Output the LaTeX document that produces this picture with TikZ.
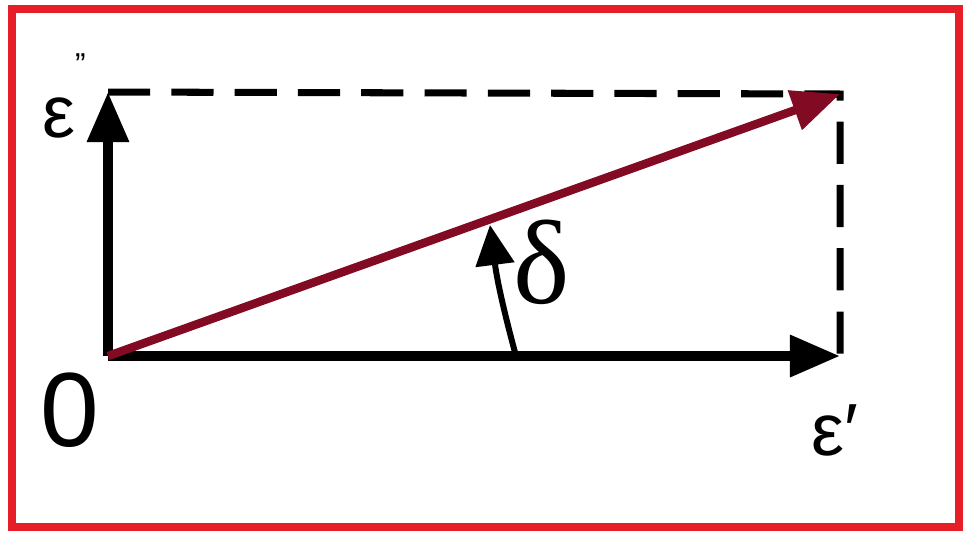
\documentclass[tikz,border=0pt]{standalone}
\usepackage{fontspec}
\setmainfont{Liberation Sans}
\newfontfamily\deltafont{Liberation Serif}
\usepackage{xcolor}
\usetikzlibrary{arrows.meta}
\definecolor{framered}{RGB}{230,30,40}
\definecolor{vecred}{RGB}{130,10,35}
\tikzset{
  axis/.style={line width=2.7pt, -{Triangle[length=5mm, width=4mm]}},
  proj/.style={line width=2pt, dash pattern=on 12pt off 6pt},
  vec/.style={line width=2.4pt, vecred, -{Triangle[length=4.8mm, width=4mm]}},
  anglearrow/.style={line width=1.7pt, -{Triangle[length=4mm, width=3.8mm]}},
  lbl/.style={inner sep=0pt}
}

\begin{document}
\begin{tikzpicture}[x=0.01cm, y=-0.01cm]
\useasboundingbox (0,0) rectangle (965,532);
\draw[framered, line width=2.4pt] (12,9) rectangle (959,527);
\coordinate (O) at (108,356);
\coordinate (A) at (108,92);
\coordinate (B) at (840,356);
\coordinate (C) at (840,94);
\coordinate (D1) at (516,356);
\coordinate (D2) at (490,225);
\draw[proj] (A) -- (C) -- (B);
\draw[axis] (O) -- (A);
\draw[axis] (O) -- (B);
\draw[vec] (O) -- (C);
\draw[anglearrow] (D1) to[bend left=4] (D2);
\node[lbl] (epsdd) at (64,96) {\fontsize{21}{21}\selectfont ε\raisebox{0.85em}{\fontsize{9}{9}\selectfont "}};
\node[lbl] (epsd) at (835,430) {\fontsize{21}{21}\selectfont ε′};
\node[lbl] (zero) at (70,410) {\fontsize{30}{30}\selectfont 0};
\node[lbl] (delta) at (542,262) {\deltafont\fontsize{34}{34}\selectfont δ};
\end{tikzpicture}
\end{document}
